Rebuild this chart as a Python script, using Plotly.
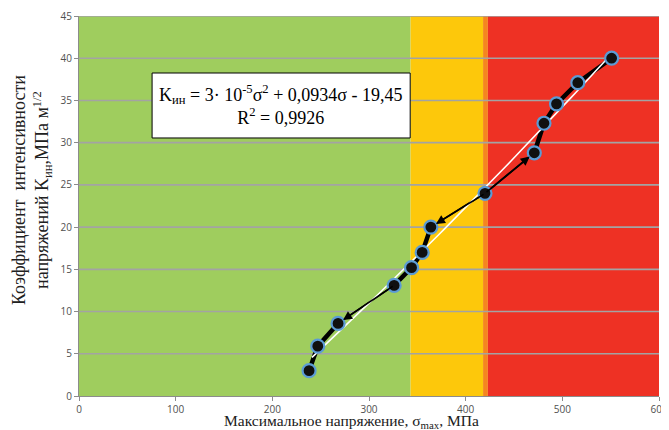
import numpy as np
import plotly.graph_objects as go

# Data
sigma_max = [238, 247, 268, 326, 344, 355, 364, 420, 471, 481, 494, 516, 551]
k_int = [3.0, 5.9, 8.6, 13.1, 15.2, 17.0, 20.0, 24.0, 28.8, 32.3, 34.6, 37.1, 40.0]

# groups of neighbouring points joined by a heavier stroke
thick_groups = [(0, 2), (3, 6), (8, 12)]

zone_edges = [0, 343, 418, 423, 600]
zone_colors = ["#9fcd5e", "#fdc80b", "#f5861f", "#ee3124"]

x_ticks = [0, 100, 200, 300, 400, 500, 600]
y_ticks = [0, 5, 10, 15, 20, 25, 30, 35, 40, 45]

eq_text = "K<sub>ин</sub> = 3· 10<sup>-5</sup>σ<sup>2</sup> + 0,0934σ - 19,45<br>R<sup>2</sup> = 0,9926"

# quadratic trend fitted to the points
coef = np.polyfit(sigma_max, k_int, 2)
trend_x = np.linspace(min(sigma_max) + 3, max(sigma_max), 60)
trend_y = np.polyval(coef, trend_x)

fig = go.Figure()

fig.add_trace(go.Scatter(
    x=sigma_max, y=k_int, mode="lines",
    line=dict(color="black", width=1.8), hoverinfo="skip", showlegend=False))

tx, ty = [], []
for s, e in thick_groups:
    tx += sigma_max[s:e + 1] + [None]
    ty += k_int[s:e + 1] + [None]
fig.add_trace(go.Scatter(
    x=tx, y=ty, mode="lines", connectgaps=False,
    line=dict(color="black", width=4.5), hoverinfo="skip", showlegend=False))

fig.add_trace(go.Scatter(
    x=trend_x, y=trend_y, mode="lines",
    line=dict(color="white", width=1.6), hoverinfo="skip", showlegend=False))

fig.add_trace(go.Scatter(
    x=sigma_max, y=k_int, mode="markers",
    marker=dict(color="#101010", size=13, line=dict(color="#5b9bd5", width=2.2)),
    showlegend=False))

shapes = []
for i, c in enumerate(zone_colors):
    shapes.append(dict(type="rect", xref="x", yref="y",
                       x0=zone_edges[i], x1=zone_edges[i + 1], y0=0, y1=45,
                       fillcolor=c, line=dict(width=0), layer="below"))
for yv in y_ticks[1:]:
    shapes.append(dict(type="line", xref="x", yref="y", x0=0, x1=600, y0=yv, y1=yv,
                       line=dict(color="#a3a3a3", width=1.6), layer="below"))
# equation box
shapes.append(dict(type="rect", xref="x domain", yref="y domain",
                   x0=0.126, x1=0.571, y0=0.679, y1=0.85,
                   fillcolor="white", line=dict(color="black", width=1), layer="above"))

annotations = []
# arrowheads on selected segments (from, to)
for a, b in [(3, 2), (7, 6), (7, 8)]:
    annotations.append(dict(
        x=sigma_max[b], y=k_int[b], ax=sigma_max[a], ay=k_int[a],
        xref="x", yref="y", axref="x", ayref="y", text="",
        showarrow=True, arrowhead=2, arrowsize=1.2, arrowwidth=1.5,
        arrowcolor="black", standoff=6))

annotations.append(dict(
    x=0.3485, y=0.7645, xref="paper", yref="paper", xanchor="center", yanchor="middle",
    text=eq_text, showarrow=False, align="center",
    font=dict(family="Liberation Serif", size=18, color="black")))

annotations.append(dict(
    x=0.469, y=-0.066, xref="paper", yref="paper", xanchor="center", yanchor="middle",
    text="Максимальное напряжение, σ<sub>max</sub>, МПа", showarrow=False,
    font=dict(family="Liberation Serif", size=15.5, color="#202020")))

annotations.append(dict(
    x=-0.081, y=0.542, xref="paper", yref="paper", textangle=-90,
    xanchor="center", yanchor="middle",
    text="Коэффициент  интенсивности<br>напряжений K<sub>ин</sub>,МПа м<sup>1/2</sup>",
    showarrow=False, font=dict(family="Liberation Serif", size=18, color="#202020")))

# page body has an 8px offset; figure is sized so it fits the window without scrolling
fig.update_layout(
    width=661, height=422,
    margin=dict(l=71, r=10, t=8, b=34, autoexpand=False),
    paper_bgcolor="white", plot_bgcolor="white",
    shapes=shapes, annotations=annotations,
    xaxis=dict(range=[0, 600], tickvals=x_ticks, showgrid=False, zeroline=False,
               showline=True, linecolor="#8c8c8c", linewidth=1,
               ticks="outside", ticklen=4, tickcolor="#8c8c8c",
               tickfont=dict(family="Open Sans", size=10, color="#505050")),
    yaxis=dict(range=[0, 45], tickvals=y_ticks, showgrid=False, zeroline=False,
               showline=True, linecolor="#8c8c8c", linewidth=1,
               ticks="outside", ticklen=4, tickcolor="#8c8c8c",
               tickfont=dict(family="Open Sans", size=10, color="#505050")),
)

fig.write_html("out.html")
